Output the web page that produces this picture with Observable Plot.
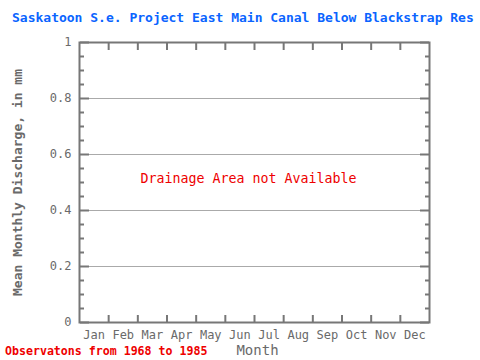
<!DOCTYPE html>
<html>
<head>
<meta charset="utf-8">
<script src="https://cdn.jsdelivr.net/npm/d3@7"></script>
<script src="https://cdn.jsdelivr.net/npm/@observablehq/plot@0.6"></script>
<style>
  html, body { margin: 0; padding: 0; background: #fff; overflow: hidden; }
  #wrap { position: relative; width: 480px; height: 360px; overflow: hidden; background: #fff; }
  #title { position: absolute; left: 12px; top: 10px; white-space: nowrap;
    font-family: "DejaVu Sans Mono", monospace; font-weight: bold; font-size: 13px; color: #0a64ff; }
  #caption { position: absolute; left: 5px; top: 344px; white-space: nowrap;
    font-family: "DejaVu Sans Mono", monospace; font-weight: bold; font-size: 11.6px; color: #ee0000; }
  #chart { position: absolute; left: 0; top: 0; }
</style>
</head>
<body>
<div id="wrap">
  <div id="chart"></div>
  <div id="title">Saskatoon S.e. Project East Main Canal Below Blackstrap Res</div>
  <div id="caption">Observatons from 1968 to 1985</div>
</div>
<script>
const months = ["Jan","Feb","Mar","Apr","May","Jun","Jul","Aug","Sep","Oct","Nov","Dec"];
const monthCenters = [0.5,1.5,2.5,3.5,4.5,5.5,6.5,7.5,8.5,9.5,10.5,11.5];
const monthBounds = [1,2,3,4,5,6,7,8,9,10,11];
const yMajor = [0,0.2,0.4,0.6,0.8,1];
const yGrid = [0.2,0.4,0.6,0.8];
const yMinor = [0.05,0.1,0.15,0.25,0.3,0.35,0.45,0.5,0.55,0.65,0.7,0.75,0.85,0.9,0.95];
const note = ["Drainage Area not Available"];
const yLabel = "Mean Monthly Discharge, in mm";
const xLabel = "Month";

const axisColor = "#777777";
const tickOpts = {tickFormat: () => "", label: null, stroke: axisColor, strokeWidth: 2};

const svg = Plot.plot({
  width: 480, height: 360,
  marginLeft: 79, marginRight: 51, marginTop: 42, marginBottom: 38,
  style: {fontFamily: "DejaVu Sans Mono, monospace", fontSize: "12px", color: "#6a6a6a", background: "transparent"},
  x: {domain: [0, 12]},
  y: {domain: [0, 1]},
  marks: [
    Plot.gridY(yGrid, {stroke: "#aaaaaa", strokeOpacity: 1, strokeWidth: 1}),
    Plot.axisY(yMajor, {anchor: "left", tickSize: 0, tickPadding: 8,
      tickFormat: d => (d === 0 || d === 1) ? String(d) : d3.format(".1f")(d),
      label: yLabel, labelAnchor: "center", labelOffset: 67, labelArrow: "none"}),
    Plot.axisX(monthCenters, {anchor: "bottom", tickSize: 0, tickPadding: 8,
      tickFormat: d => months[Math.floor(d)],
      label: xLabel, labelAnchor: "center", labelOffset: 32, labelArrow: "none"}),
    // inward-pointing ticks: point away from the frame side they sit on
    Plot.axisY(yMinor, {anchor: "right", frameAnchor: "left", tickSize: 4, ...tickOpts}),
    Plot.axisY(yMajor, {anchor: "right", frameAnchor: "left", tickSize: 9, ...tickOpts}),
    Plot.axisY(yMinor, {anchor: "left", frameAnchor: "right", tickSize: 4, ...tickOpts}),
    Plot.axisY(yMajor, {anchor: "left", frameAnchor: "right", tickSize: 9, ...tickOpts}),
    Plot.axisX(monthBounds, {anchor: "top", frameAnchor: "bottom", tickSize: 8, ...tickOpts}),
    Plot.axisX(monthBounds, {anchor: "bottom", frameAnchor: "top", tickSize: 8, ...tickOpts}),
    Plot.frame({stroke: axisColor, strokeWidth: 2}),
    Plot.text(note, {frameAnchor: "middle", text: d => d, fill: "#ee0000",
      fontSize: 13.3, dx: -6, dy: -4})
  ]
});
const yl = svg.querySelector('[aria-label="y-axis label"]');
if (yl) { yl.setAttribute("font-weight", "bold"); yl.setAttribute("font-size", "13"); }
const xl = svg.querySelector('[aria-label="x-axis label"]');
if (xl) { xl.setAttribute("font-size", "14"); xl.setAttribute("transform", (xl.getAttribute("transform") || "") + " translate(3,0)"); }
document.getElementById("chart").appendChild(svg);
</script>
</body>
</html>
